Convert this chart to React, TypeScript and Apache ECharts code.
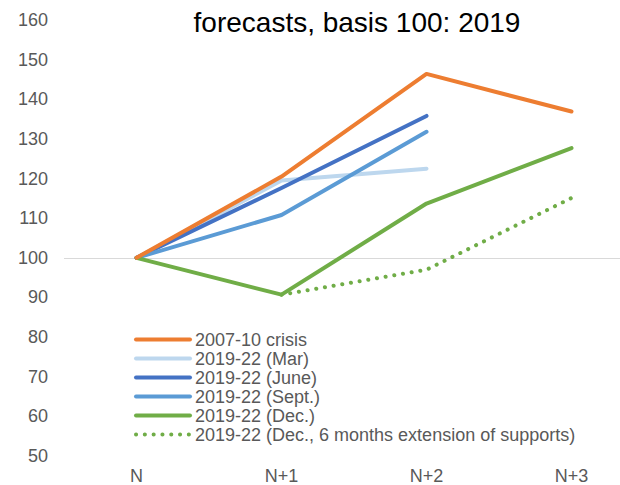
import React, { useEffect, useRef } from "react";
import * as echarts from "echarts";

const categories = ["N", "N+1", "N+2", "N+3"];
const crisis = [100, 120.5, 146.4, 136.9];
const mar = [100, 119.5, 122.5, null];
const june = [100, 117.6, 135.8, null];
const sept = [100, 110.8, 131.8, null];
const dec = [100, 90.7, 113.7, 127.7];
const decExt = [null, 90.7, 97.0, 115.1];
const yTicks = { min: 50, max: 160, interval: 10 };
const titleLine = "forecasts, basis 100: 2019";

const FONT = "Liberation Sans, Arial, sans-serif";

export default function App() {
  const ref = useRef<HTMLDivElement>(null);
  useEffect(() => {
    if (!ref.current) return;
    const chart = echarts.init(ref.current, undefined, { renderer: "svg" });
    const mk = (name: string, data: any[], color: string, extra: any = {}) => ({
      name,
      type: "line",
      data,
      symbol: "none",
      connectNulls: false,
      lineStyle: { color, width: 4, cap: "round", join: "round", ...extra },
      itemStyle: { color },
      silent: true,
    });
    chart.setOption({
      animation: false,
      textStyle: { fontFamily: FONT },
      grid: { left: 64, right: 0, top: 20, bottom: 28 },
      graphic: [
        {
          type: "text",
          x: 357,
          y: 22,
          style: {
            text: titleLine,
            align: "center",
            verticalAlign: "middle",
            fontSize: 28,
            fontFamily: FONT,
            fill: "#000000",
          },
        },
      ],
      legend: {
        orient: "vertical",
        left: 134,
        top: 330,
        itemWidth: 54,
        itemHeight: 10,
        itemGap: 0,
        padding: 0,
        itemStyle: { opacity: 0 },
        lineStyle: { width: 4 },
        textStyle: { fontSize: 18, lineHeight: 19, color: "#595959", fontFamily: FONT },
        data: [
          "2007-10 crisis",
          "2019-22 (Mar)",
          "2019-22 (June)",
          "2019-22 (Sept.)",
          "2019-22 (Dec.)",
          "2019-22 (Dec., 6 months extension of supports)",
        ],
      },
      xAxis: {
        type: "category",
        data: categories,
        boundaryGap: true,
        axisLine: { show: false },
        axisTick: { show: false },
        axisLabel: { fontSize: 18, color: "#595959", margin: 11, fontFamily: FONT },
        splitLine: { show: false },
      },
      yAxis: {
        type: "value",
        min: yTicks.min,
        max: yTicks.max,
        interval: yTicks.interval,
        axisLine: { show: false },
        axisTick: { show: false },
        splitLine: { show: false },
        axisLabel: { fontSize: 18, color: "#595959", margin: 16, fontFamily: FONT },
      },
      series: [
        {
          ...mk("2007-10 crisis", crisis, "#ED7D31"),
          markLine: {
            silent: true,
            symbol: "none",
            label: { show: false },
            lineStyle: { color: "#d9d9d9", width: 1, type: "solid" },
            data: [{ yAxis: 100 }],
            z: 1,
          },
          z: 6,
        },
        mk("2019-22 (Mar)", mar, "#BDD7EE"),
        mk("2019-22 (June)", june, "#4472C4"),
        mk("2019-22 (Sept.)", sept, "#5B9BD5"),
        mk("2019-22 (Dec.)", dec, "#70AD47"),
        mk("2019-22 (Dec., 6 months extension of supports)", decExt, "#70AD47", {
          type: [0.1, 8.7],
          cap: "round",
        }),
      ],
    });
    return () => chart.dispose();
  }, []);
  return (
    <div style={{ position: "absolute", left: 0, top: 0, width: 620, height: 485, overflow: "hidden", background: "#fff" }}>
      <div ref={ref} style={{ position: "absolute", left: 0, top: 0, width: 644, height: 485 }} />
    </div>
  );
}
